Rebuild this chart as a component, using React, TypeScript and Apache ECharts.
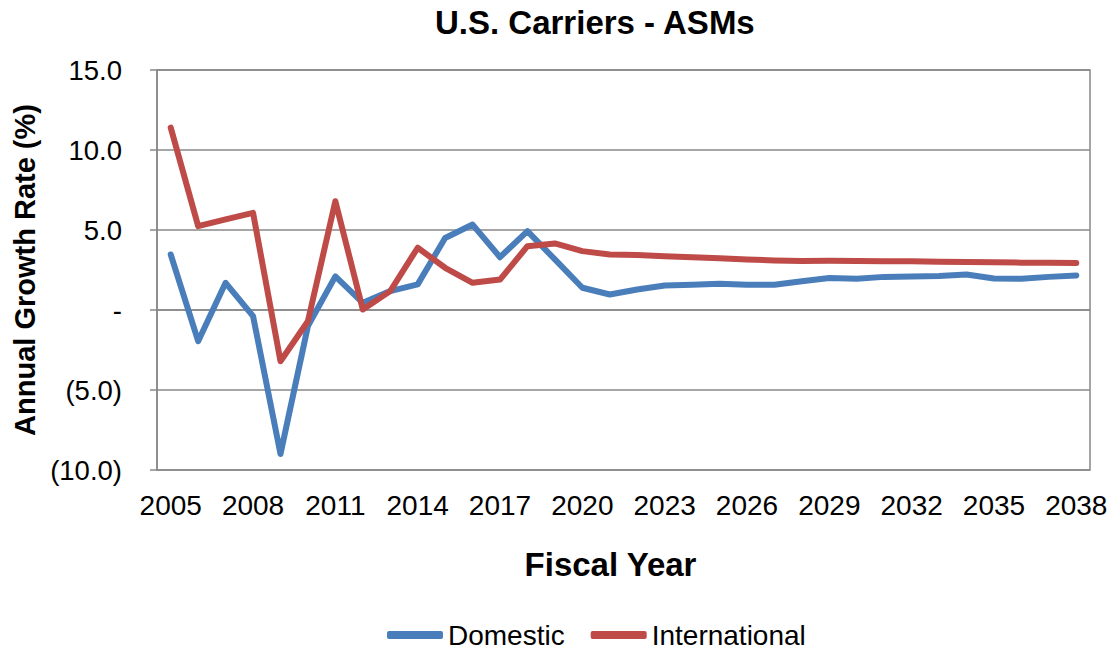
import React, { useEffect, useRef } from "react";
import * as echarts from "echarts";

const years = [
  "2005", "2006", "2007", "2008", "2009", "2010", "2011", "2012", "2013", "2014",
  "2015", "2016", "2017", "2018", "2019", "2020", "2021", "2022", "2023", "2024",
  "2025", "2026", "2027", "2028", "2029", "2030", "2031", "2032", "2033", "2034",
  "2035", "2036", "2037", "2038",
];

const domestic = [
  3.47, -1.95, 1.7, -0.38, -9.0, -1.0, 2.1, 0.45, 1.18, 1.6,
  4.5, 5.34, 3.3, 4.93, 3.16, 1.39, 0.97, 1.28, 1.53, 1.58,
  1.64, 1.58, 1.58, 1.8, 2.0, 1.95, 2.07, 2.1, 2.12, 2.22,
  1.97, 1.95, 2.07, 2.16,
];

const international = [
  11.4, 5.24, 5.66, 6.07, -3.2, -0.7, 6.8, 0.03, 1.18, 3.89,
  2.64, 1.7, 1.9, 3.99, 4.16, 3.68, 3.47, 3.43, 3.36, 3.3,
  3.24, 3.16, 3.1, 3.07, 3.08, 3.07, 3.05, 3.04, 3.02, 3.0,
  2.98, 2.96, 2.96, 2.94,
];

const seriesNames = ["Domestic", "International"];
const colors = ["#4A7EBB", "#BE4B48"];
const FONT = "'Liberation Sans', Arial, sans-serif";

function fmt(v: number): string {
  if (Math.abs(v) < 1e-9) return "-";
  if (v < 0) return "(" + Math.abs(v).toFixed(1) + ")";
  return v.toFixed(1);
}

export default function App() {
  const ref = useRef<HTMLDivElement>(null);
  useEffect(() => {
    if (!ref.current) return;
    const chart = echarts.init(ref.current, undefined, { renderer: "svg" });
    chart.setOption({
      animation: false,
      backgroundColor: "#ffffff",
      textStyle: { fontFamily: FONT },
      title: {
        text: "U.S. Carriers - ASMs",
        left: 430,
        top: 1,
        textStyle: { fontFamily: FONT, fontSize: 33, fontWeight: "bold", color: "#000" },
      },
      legend: {
        data: seriesNames,
        left: 382,
        top: 616,
        icon: "roundRect",
        itemWidth: 56,
        itemHeight: 8,
        itemGap: 26,
        textStyle: { fontFamily: FONT, fontSize: 28, color: "#000" },
      },
      grid: {
        left: 157,
        right: 24,
        top: 70,
        bottom: 182,
        show: true,
        borderColor: "#888888",
        borderWidth: 1.5,
      },
      xAxis: {
        type: "category",
        data: years,
        boundaryGap: true,
        name: "Fiscal Year",
        nameLocation: "middle",
        nameGap: 78,
        nameTextStyle: {
          fontFamily: FONT,
          fontSize: 33,
          fontWeight: "bold",
          color: "#000",
          padding: [0, 26, 0, 0],
        },
        axisLine: { show: true, lineStyle: { color: "#888888", width: 1.5 } },
        axisTick: { show: false },
        axisLabel: {
          interval: 2,
          fontFamily: FONT,
          fontSize: 28,
          color: "#000",
          margin: 21,
        },
        splitLine: { show: false },
      },
      yAxis: {
        type: "value",
        min: -10,
        max: 15,
        interval: 5,
        name: "Annual Growth Rate (%)",
        nameLocation: "middle",
        nameGap: 111,
        nameTextStyle: { fontFamily: FONT, fontSize: 29, fontWeight: "bold", color: "#000" },
        axisLine: { show: true, lineStyle: { color: "#888888", width: 1.5 } },
        axisTick: { show: true, length: 7, lineStyle: { color: "#888888", width: 1.5 } },
        axisLabel: {
          formatter: (v: number) => fmt(v),
          fontFamily: FONT,
          fontSize: 27.5,
          color: "#000",
          margin: 35,
        },
        splitLine: { show: true, lineStyle: { color: "#888888", width: 1.5 } },
      },
      series: [
        {
          name: seriesNames[0],
          type: "line",
          data: domestic,
          symbol: "none",
          color: colors[0],
          lineStyle: { color: colors[0], width: 6, cap: "round", join: "round" },
        },
        {
          name: seriesNames[1],
          type: "line",
          data: international,
          symbol: "none",
          color: colors[1],
          lineStyle: { color: colors[1], width: 6, cap: "round", join: "round" },
        },
      ],
    });
    return () => chart.dispose();
  }, []);
  return (
    <div
      ref={ref}
      style={{ position: "fixed", left: 0, top: 0, width: 1114, height: 652 }}
    />
  );
}
